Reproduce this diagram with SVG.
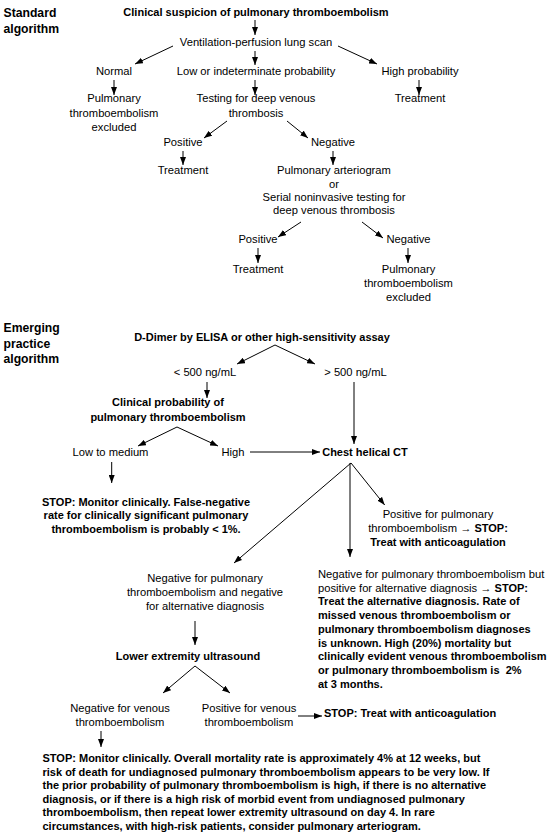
<svg xmlns="http://www.w3.org/2000/svg" width="556" height="838" viewBox="0 0 556 838">
<defs>
<marker id="ah" viewBox="0 0 8 6" refX="8" refY="3" markerWidth="8" markerHeight="6" markerUnits="userSpaceOnUse" orient="auto">
<path d="M0,0 L8,3 L0,6 z" fill="#000"/>
</marker>
<style>
text{font-family:"Liberation Sans",Arial,sans-serif;fill:#000}
.r{font-size:11.2px}
.b{font-size:11px;font-weight:bold}
.h{font-size:12.2px;font-weight:bold}
.c{text-anchor:middle}
#connectors line{stroke:#000;stroke-width:1;marker-end:url(#ah)}
</style>
</defs>
<rect width="556" height="838" fill="#fff"/>

<g id="hdr-standard"><text class="h" x="3.5" y="17">Standard</text><text class="h" x="3.5" y="33">algorithm</text></g>
<g id="n-suspicion"><text class="b c" x="256" y="16">Clinical suspicion of pulmonary thromboembolism</text></g>
<g id="n-vq"><text class="r c" x="256" y="46">Ventilation-perfusion lung scan</text></g>
<g id="n-normal"><text class="r c" x="114" y="75">Normal</text></g>
<g id="n-low"><text class="r c" x="256" y="75">Low or indeterminate probability</text></g>
<g id="n-high"><text class="r c" x="420" y="75">High probability</text></g>
<g id="n-excl1"><text class="r c" x="114" y="102">Pulmonary</text><text class="r c" x="114" y="116.5">thromboembolism</text><text class="r c" x="114" y="131">excluded</text></g>
<g id="n-dvt"><text class="r c" x="256" y="102">Testing for deep venous</text><text class="r c" x="256" y="116.5">thrombosis</text></g>
<g id="n-treat1"><text class="r c" x="420" y="102">Treatment</text></g>
<g id="n-pos1"><text class="r c" x="183" y="146">Positive</text></g>
<g id="n-neg1"><text class="r c" x="333" y="146">Negative</text></g>
<g id="n-treat2"><text class="r c" x="183" y="174">Treatment</text></g>
<g id="n-angio"><text class="r c" x="334" y="174">Pulmonary arteriogram</text><text class="r c" x="334" y="188">or</text><text class="r c" x="334" y="201">Serial noninvasive testing for</text><text class="r c" x="334" y="214">deep venous thrombosis</text></g>
<g id="n-pos2"><text class="r c" x="258" y="243">Positive</text></g>
<g id="n-neg2"><text class="r c" x="408.5" y="243">Negative</text></g>
<g id="n-treat3"><text class="r c" x="258" y="273">Treatment</text></g>
<g id="n-excl2"><text class="r c" x="408.5" y="273">Pulmonary</text><text class="r c" x="408.5" y="287">thromboembolism</text><text class="r c" x="408.5" y="301">excluded</text></g>

<g id="hdr-emerging"><text class="h" x="3.5" y="332">Emerging</text><text class="h" x="3.5" y="347.5">practice</text><text class="h" x="3.5" y="363">algorithm</text></g>
<g id="n-ddimer"><text class="b c" x="262" y="341">D-Dimer by ELISA or other high-sensitivity assay</text></g>
<g id="n-lt500"><text class="r c" x="205" y="376">&lt; 500 ng/mL</text></g>
<g id="n-gt500"><text class="r c" x="355.5" y="376">&gt; 500 ng/mL</text></g>
<g id="n-clinprob"><text class="b c" x="168" y="406">Clinical probability of</text><text class="b c" x="168" y="421">pulmonary thromboembolism</text></g>
<g id="n-lowmed"><text class="r c" x="110.5" y="456">Low to medium</text></g>
<g id="n-highp"><text class="r c" x="233" y="456">High</text></g>
<g id="n-ct"><text class="b c" x="365" y="456">Chest helical CT</text></g>
<g id="n-stop1"><text class="b c" x="146" y="506">STOP: Monitor clinically. False-negative</text><text class="b c" x="146" y="519.3">rate for clinically significant pulmonary</text><text class="b c" x="146" y="532.5">thromboembolism is probably &lt; 1%.</text></g>
<g id="n-ctpos"><text class="r c" x="438" y="517.5">Positive for pulmonary</text><text class="r c" x="438" y="531.5">thromboembolism → <tspan class="b">STOP:</tspan></text><text class="b c" x="438" y="546">Treat with anticoagulation</text></g>
<g id="n-ctneg"><text class="r c" x="205" y="582">Negative for pulmonary</text><text class="r c" x="205" y="596">thromboembolism and negative</text><text class="r c" x="205" y="609.5">for alternative diagnosis</text></g>
<g id="n-ctalt">
<text class="r" x="318" y="578">Negative for pulmonary thromboembolism but</text>
<text class="r" x="318" y="591.7">positive for alternative diagnosis → <tspan class="b">STOP:</tspan></text>
<text class="b" x="318" y="605.4">Treat the alternative diagnosis. Rate of</text>
<text class="b" x="318" y="619.1">missed venous thromboembolism or</text>
<text class="b" x="318" y="632.8">pulmonary thromboembolism diagnoses</text>
<text class="b" x="318" y="646.5">is unknown. High (20%) mortality but</text>
<text class="b" x="318" y="660.2">clinically evident venous thromboembolism</text>
<text class="b" x="318" y="673.9" xml:space="preserve">or pulmonary thromboembolism is  2%</text>
<text class="b" x="318" y="687.6">at 3 months.</text>
</g>
<g id="n-us"><text class="b c" x="188" y="660">Lower extremity ultrasound</text></g>
<g id="n-usneg"><text class="r c" x="120" y="712">Negative for venous</text><text class="r c" x="120" y="726">thromboembolism</text></g>
<g id="n-uspos"><text class="r c" x="249" y="712">Positive for venous</text><text class="r c" x="249" y="726">thromboembolism</text></g>
<g id="n-stop2"><text class="b" x="324" y="717">STOP: Treat with anticoagulation</text></g>
<g id="n-stop3">
<text class="b" x="42.5" y="762">STOP: Monitor clinically. Overall mortality rate is approximately 4% at 12 weeks, but</text>
<text class="b" x="42.5" y="775.6">risk of death for undiagnosed pulmonary thromboembolism appears to be very low. If</text>
<text class="b" x="42.5" y="789.2">the prior probability of pulmonary thromboembolism is high, if there is no alternative</text>
<text class="b" x="42.5" y="802.8">diagnosis, or if there is a high risk of morbid event from undiagnosed pulmonary</text>
<text class="b" x="42.5" y="816.4">thromboembolism, then repeat lower extremity ultrasound on day 4. In rare</text>
<text class="b" x="42.5" y="830">circumstances, with high-risk patients, consider pulmonary arteriogram.</text>
</g>

<g id="connectors">
<line x1="255" y1="20" x2="255" y2="35"/>
<line x1="173" y1="46" x2="135" y2="64"/>
<line x1="255" y1="51" x2="255" y2="65"/>
<line x1="338" y1="46" x2="377" y2="64"/>
<line x1="114" y1="80" x2="114" y2="95"/>
<line x1="255" y1="80" x2="255" y2="95"/>
<line x1="419" y1="80" x2="419" y2="95"/>
<line x1="227" y1="121" x2="204" y2="138"/>
<line x1="287" y1="121" x2="308" y2="138"/>
<line x1="183" y1="151" x2="183" y2="165"/>
<line x1="333" y1="151" x2="333" y2="165"/>
<line x1="301" y1="222" x2="278" y2="237"/>
<line x1="362" y1="222" x2="383" y2="238"/>
<line x1="258" y1="248" x2="258" y2="263"/>
<line x1="408" y1="248" x2="408" y2="263"/>
<line x1="275" y1="345" x2="237" y2="364"/>
<line x1="275" y1="345" x2="315" y2="364"/>
<line x1="207" y1="382" x2="207" y2="398"/>
<line x1="354" y1="382" x2="354" y2="444"/>
<line x1="177" y1="427" x2="138" y2="446"/>
<line x1="177" y1="427" x2="218" y2="446"/>
<line x1="250" y1="452" x2="320" y2="452"/>
<line x1="111.7" y1="462" x2="111.7" y2="483"/>
<line x1="351" y1="463" x2="384.7" y2="505"/>
<line x1="350" y1="463" x2="350" y2="557"/>
<line x1="351" y1="463" x2="234" y2="563"/>
<line x1="195" y1="621" x2="195" y2="645"/>
<line x1="195" y1="666" x2="163" y2="693"/>
<line x1="195" y1="666" x2="230" y2="693"/>
<line x1="298" y1="716" x2="322" y2="716"/>
<line x1="101" y1="731" x2="101" y2="747"/>
</g>
</svg>
